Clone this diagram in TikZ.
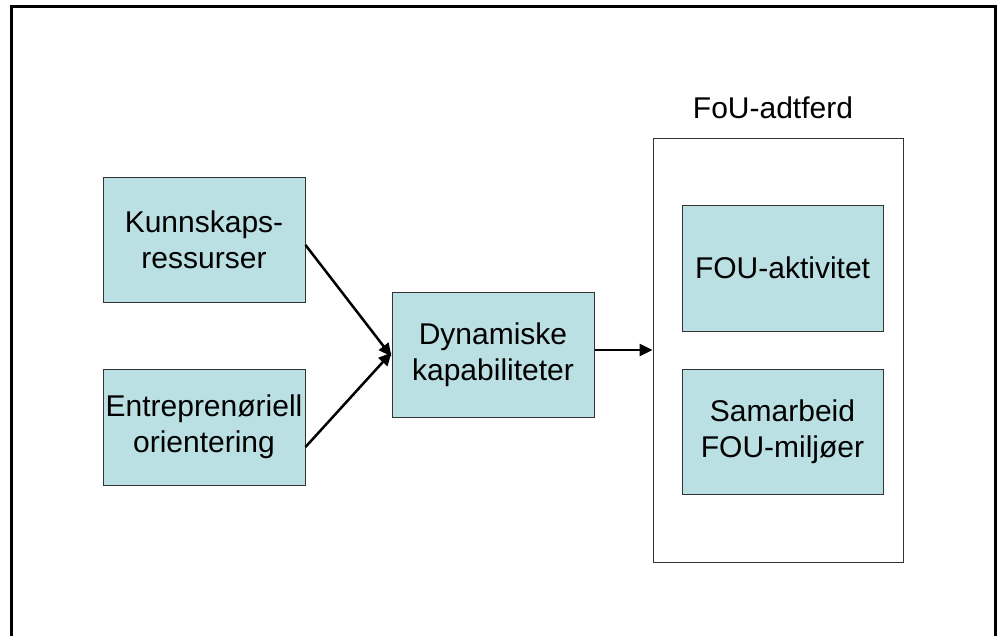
\documentclass[tikz,border=0pt]{standalone}
\usepackage{fontspec}
\setmainfont{Liberation Sans}
\usetikzlibrary{arrows.meta}
\definecolor{boxfill}{HTML}{BBE0E3}
\definecolor{boxline}{HTML}{333333}
\tikzset{
  txt/.style={font=\fontsize{30}{36}\selectfont},
  box/.style={txt, draw=boxline, line width=1pt, fill=boxfill, inner sep=0pt,
    align=center},
  arr/.style={line width=2.5pt, -{Triangle[length=13pt,width=12pt]}},
}
\begin{document}
\begin{tikzpicture}[x=1pt,y=-1pt]
\useasboundingbox (0,0) rectangle (998,635);
\draw[line width=3pt] (11,645) -- (11,6) -- (995,6) -- (995,645);
\node[box, minimum width=202pt, minimum height=125pt] (kr) at (204,239.5) {Kunnskaps-\\ressurser};
\node[box, minimum width=202pt, minimum height=116pt] (eo) at (204,427) {Entreprenøriell\\orientering};
\node[box, minimum width=202pt, minimum height=125pt] (dk) at (493,354.5) {Dynamiske\\kapabiliteter};
\node[draw=boxline, line width=1pt, fill=white, minimum width=250pt, minimum height=424pt, inner sep=0pt] (fb) at (778,350) {};
\node[txt, anchor=base] (ft) at (773,118) {FoU-adtferd};
\node[box, minimum width=201pt, minimum height=126pt] (fa) at (782.5,268) {FOU-aktivitet};
\node[box, minimum width=201pt, minimum height=125pt] (sf) at (782.5,431.5) {Samarbeid\\FOU-miljøer};
\draw[arr] (kr.east |- 0,245) -- ([yshift=-2pt]dk.west);
\draw[arr] (eo.east |- 0,447) -- ([yshift=2pt]dk.west);
\draw[arr] (dk.east |- 0,350) -- (fb.west |- 0,350);
\end{tikzpicture}
\end{document}
